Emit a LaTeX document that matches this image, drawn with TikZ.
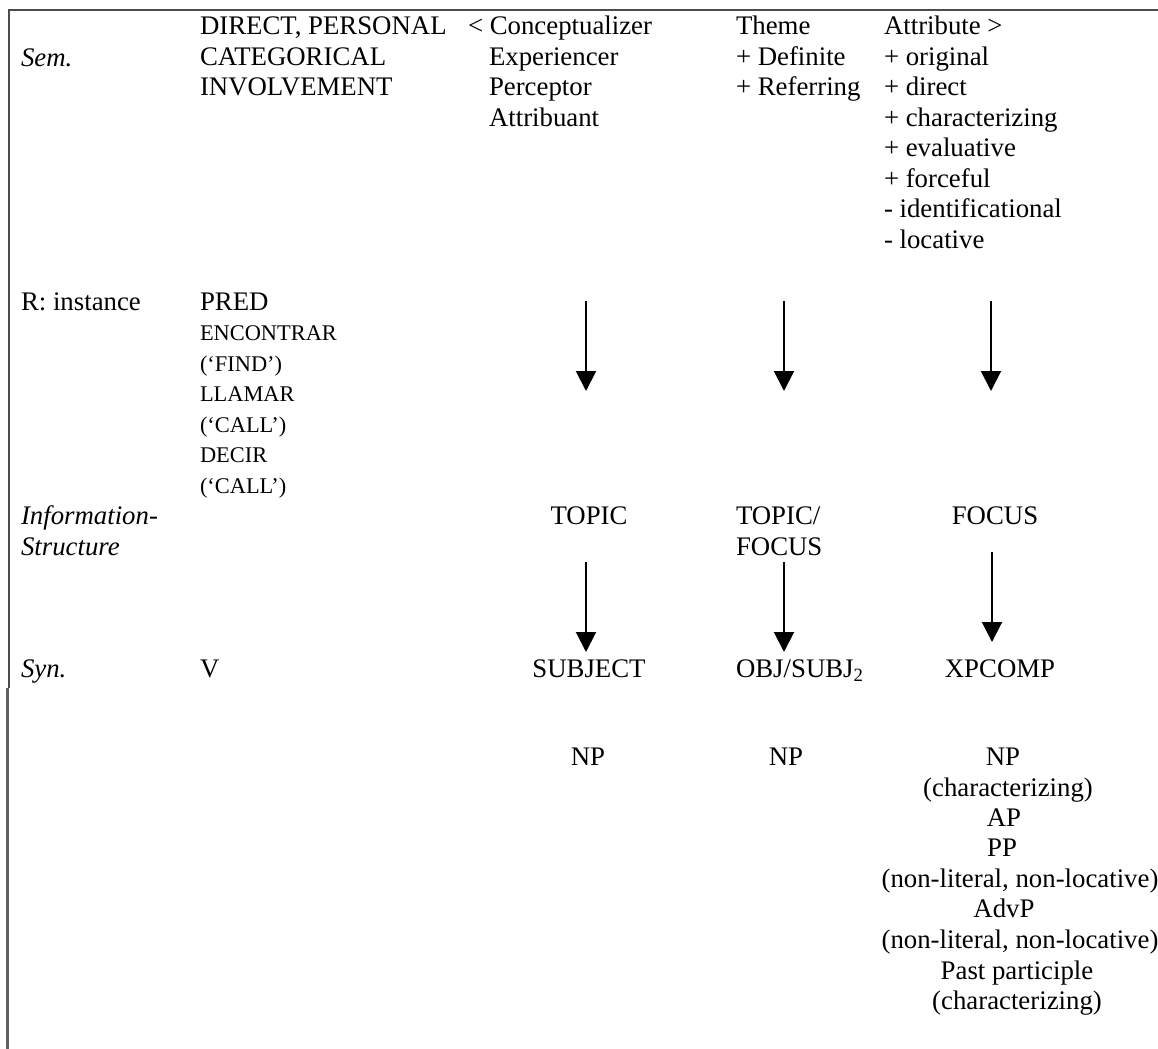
\documentclass[tikz,border=0pt]{standalone}
\usepackage{fontspec}
\setmainfont{Liberation Serif}
\usetikzlibrary{arrows.meta}
\newcommand\fnorm{\fontsize{13.4}{15.3}\selectfont}
\newcommand\fsml{\fontsize{11.2}{13}\selectfont}
\begin{document}
\begin{tikzpicture}[x=0.5pt,y=-0.5pt,
  tx/.style={inner sep=0pt,outer sep=0pt,anchor=base west,font=\fnorm},
  txs/.style={tx,font=\fsml},
  txc/.style={inner sep=0pt,outer sep=0pt,anchor=base,font=\fnorm},
  lbl/.style={tx,font=\fnorm\itshape},
  frame/.style={draw=black!70,line width=1pt},
  frameb/.style={draw=black!62,line width=1.4pt},
  arr/.style={line width=1pt,-{Triangle[width=10pt,length=10pt]}}]
\useasboundingbox (0,0) rectangle (1158,1049);
% frame lines
\draw[frame] (8,10) -- (1158,10);
\draw[frame] (9,10) -- (9,688);
\draw[frameb] (7.5,688) -- (7.5,1049);
% row labels
\node[lbl] (sem) at (21,67) {Sem.};
\node[tx] (rinst) at (21,310) {R: instance};
\node[lbl] (info1) at (21,524) {Information-};
\node[lbl] (info2) at (21,555) {Structure};
\node[lbl] (syn) at (21,677) {Syn.};
% column 1
\node[tx] (c1a) at (200,34) {DIRECT, PERSONAL};
\node[tx] (c1b) at (200,65) {CATEGORICAL};
\node[tx] (c1c) at (200,95.5) {INVOLVEMENT};
\node[tx] (pred) at (200,310) {PRED};
\node[txs] (enc) at (200,340.5) {ENCONTRAR};
\node[txs] (find) at (200,371) {(‘FIND’)};
\node[txs] (llam) at (200,401.5) {LLAMAR};
\node[txs] (call1) at (200,432) {(‘CALL’)};
\node[txs] (dec) at (200,462.5) {DECIR};
\node[txs] (call2) at (200,493) {(‘CALL’)};
\node[tx] (v) at (200,677) {V};
% column 2
\node[tx] (c2a) at (468,34) {< Conceptualizer};
\node[tx] (c2b) at (489,65) {Experiencer};
\node[tx] (c2c) at (489,95.5) {Perceptor};
\node[tx] (c2d) at (489,126) {Attribuant};
\node[txc] (topic) at (589,524) {TOPIC};
\node[txc] (subj) at (589,677) {SUBJECT};
\node[txc] (np1) at (588,765) {NP};
% column 3
\node[tx] (c3a) at (736,34) {Theme};
\node[tx] (c3b) at (736,65) {+ Definite};
\node[tx] (c3c) at (736,95.5) {+ Referring};
\node[tx] (tf1) at (736,524) {TOPIC/};
\node[tx] (tf2) at (736,555) {FOCUS};
\node[tx] (obj) at (736,677) {OBJ/SUBJ\textsubscript{2}};
\node[txc] (np2) at (786,765) {NP};
% column 4
\node[tx] (c4a) at (884,34) {Attribute >};
\node[tx] (c4b) at (884,65) {+ original};
\node[tx] (c4c) at (884,95.5) {+ direct};
\node[tx] (c4d) at (884,126) {+ characterizing};
\node[tx] (c4e) at (884,156.5) {+ evaluative};
\node[tx] (c4f) at (884,187) {+ forceful};
\node[tx] (c4g) at (884,217.5) {- identificational};
\node[tx] (c4h) at (884,248) {- locative};
\node[txc] (focus) at (995,524) {FOCUS};
\node[txc] (xpc) at (1000,677) {XPCOMP};
\node[txc] (np3) at (1003,765) {NP};
\node[txc] (ch1) at (1008,796) {(characterizing)};
\node[txc] (ap) at (1004,826) {AP};
\node[txc] (pp) at (1002,856) {PP};
\node[txc] (nl1) at (1020,887) {(non-literal, non-locative)};
\node[txc] (advp) at (1004,917) {AdvP};
\node[txc] (nl2) at (1020,948) {(non-literal, non-locative)};
\node[txc] (past) at (1017,979) {Past participle};
\node[txc] (ch2) at (1017,1009) {(characterizing)};
% arrows
\coordinate (a1s) at (586,301); \coordinate (a1e) at (586,391);
\coordinate (a2s) at (784,301); \coordinate (a2e) at (784,391);
\coordinate (a3s) at (991,301); \coordinate (a3e) at (991,391);
\coordinate (b1s) at (586,562); \coordinate (b1e) at (586,652);
\coordinate (b2s) at (784,562); \coordinate (b2e) at (784,652);
\coordinate (b3s) at (992,552); \coordinate (b3e) at (992,642);
\draw[arr] (a1s) -- (a1e);
\draw[arr] (a2s) -- (a2e);
\draw[arr] (a3s) -- (a3e);
\draw[arr] (b1s) -- (b1e);
\draw[arr] (b2s) -- (b2e);
\draw[arr] (b3s) -- (b3e);
\end{tikzpicture}
\end{document}
